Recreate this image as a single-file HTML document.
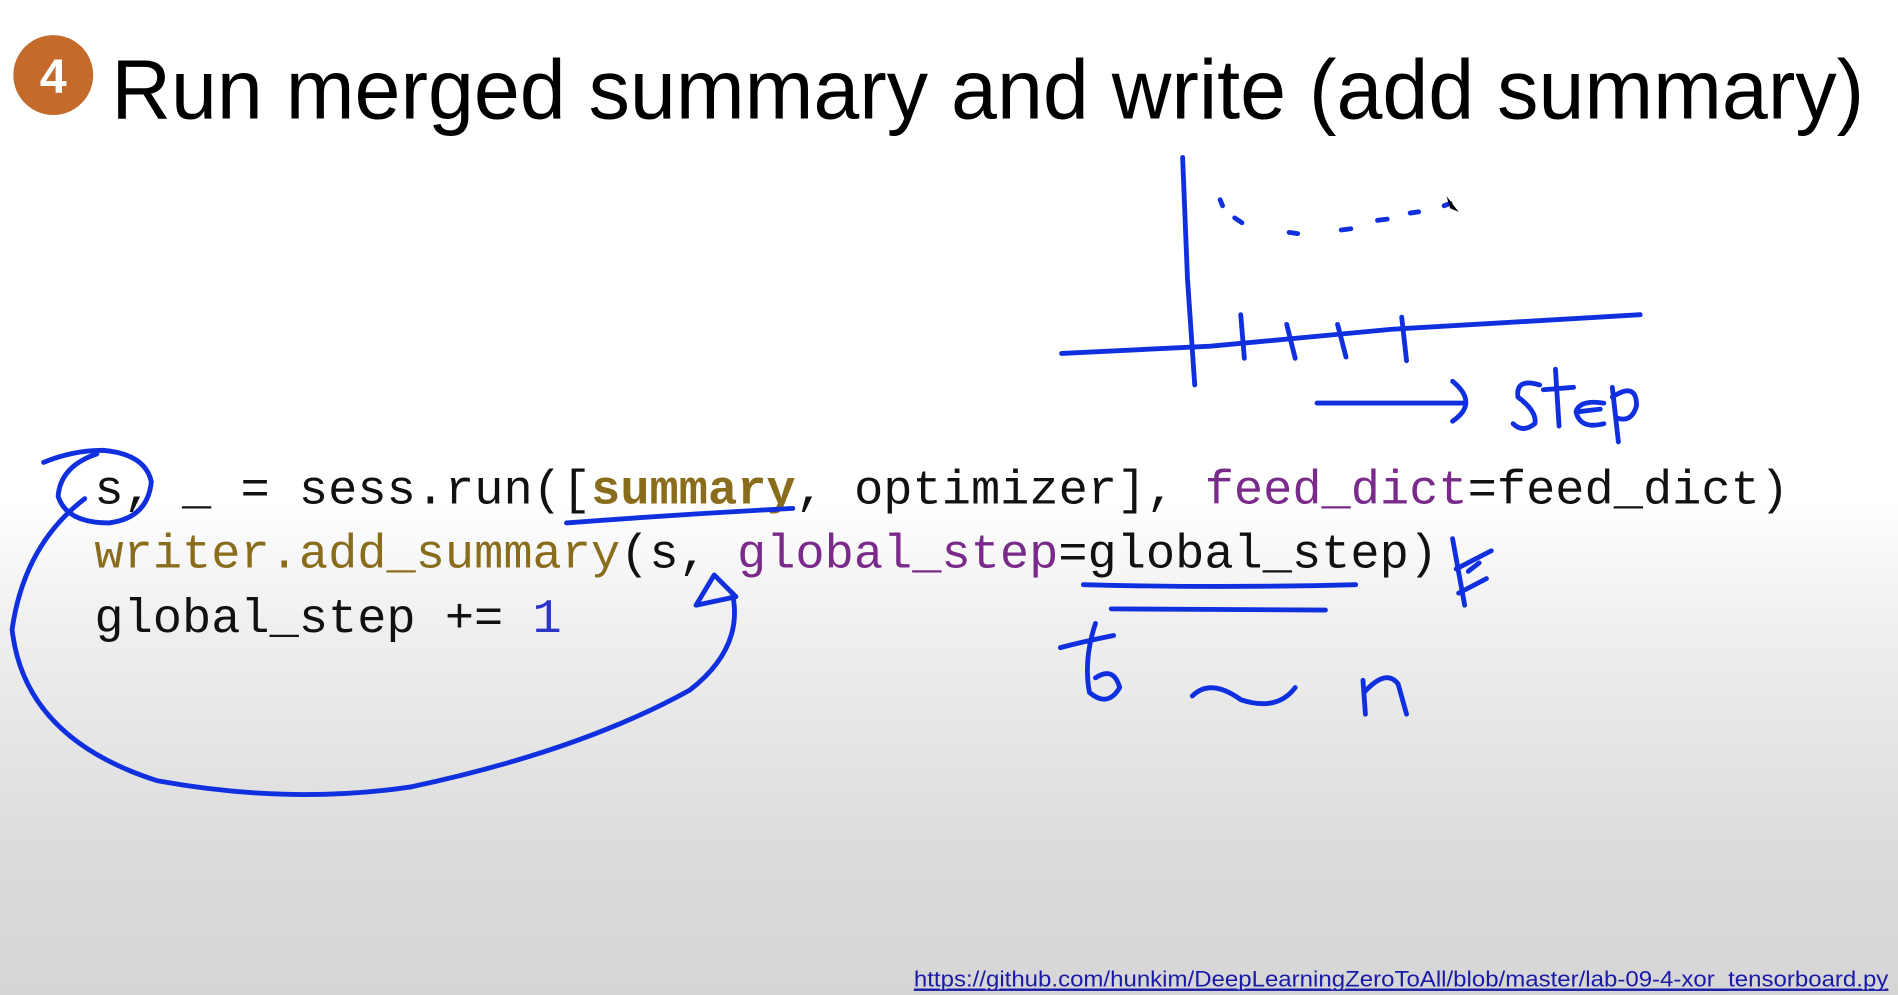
<!DOCTYPE html>
<html><head><meta charset="utf-8"><style>
html,body{margin:0;padding:0;width:1898px;height:995px;overflow:hidden;
background:linear-gradient(to bottom,#ffffff 0%,#ffffff 50%,#f0f0f0 62%,#dcdcdc 85%,#d6d6d6 100%);}
svg{display:block}
</style></head><body>
<svg width="1898" height="995" viewBox="0 0 1568 822" xmlns="http://www.w3.org/2000/svg">
<circle cx="44" cy="62" r="33" fill="#c46a2a"/>
<text x="44" y="77" font-family="Liberation Sans, sans-serif" font-size="40" font-weight="bold" fill="#fff" text-anchor="middle">4</text>
<text x="92" y="98" font-family="Liberation Sans, sans-serif" font-size="70" fill="#000" textLength="1448" lengthAdjust="spacingAndGlyphs">Run merged summary and write (add summary)</text>

<g font-family="Liberation Mono, monospace" font-size="40" fill="#111">
<text x="78" y="416" textLength="1400" lengthAdjust="spacingAndGlyphs">s, _ = sess.run([<tspan fill="#8a6d1c" font-weight="bold">summary</tspan>, optimizer], <tspan fill="#7a2a8a">feed_dict</tspan>=feed_dict)</text>
<text x="78" y="469" textLength="1110" lengthAdjust="spacingAndGlyphs"><tspan fill="#8a6d1c">writer.add_summary</tspan>(s, <tspan fill="#7a2a8a">global_step</tspan>=global_step)</text>
<text x="78" y="522" textLength="386" lengthAdjust="spacingAndGlyphs">global_step += <tspan fill="#2a35c8">1</tspan></text>
</g>

<g fill="none" stroke="#1030e0" stroke-width="4" stroke-linecap="round" stroke-linejoin="round">
<!-- graph axes -->
<path d="M977 130 L981 230 L987 318"/>
<path d="M877 292 L1000 286 L1150 272 L1355 260"/>
<path d="M1025 260 L1028 296 M1063 268 L1070 296 M1105 268 L1112 295 M1158 262 L1162 298"/>
<path d="M1008 165 L1010 170 M1020 180 L1026 184 M1065 192 L1072 193 M1108 190 L1116 189 M1138 182 L1146 181 M1165 176 L1172 175 M1193 170 L1198 168"/>
<!-- step arrow -->
<path d="M1088 333 L1210 333 M1200 315 Q1222 333 1200 348"/>
<path d="M1272 318 Q1252 312 1254 328 Q1270 340 1268 350 Q1258 358 1250 350"/>
<path d="M1285 305 L1288 352 M1275 322 L1300 320"/>
<path d="M1325 333 Q1305 330 1302 340 Q1305 355 1325 350"/>
<path d="M1305 340 L1322 338"/>
<path d="M1332 320 L1337 365 M1332 328 Q1352 315 1352 335 Q1348 350 1335 345"/>
<!-- circle around s -->
<path d="M36 382 Q60 372 85 372 Q120 375 125 398 Q122 428 90 432 Q55 432 48 410 Q50 385 80 375"/>
<!-- loop arrow -->
<path d="M70 412 Q20 450 10 520 Q20 610 130 645 Q240 665 340 650 Q480 620 570 570 Q615 535 605 490"/>
<path d="M575 500 L590 475 L608 493 Z"/>
<!-- underlines -->
<path d="M468 432 Q560 425 655 420"/>
<path d="M895 483 Q1010 486 1120 483"/>
<path d="M918 503 L1095 504"/>
<path d="M1200 445 L1210 500 M1203 470 L1232 455 M1205 490 L1228 478 M1213 472 L1222 465"/>
<!-- t ~ n -->
<path d="M876 535 Q895 530 920 525 M905 515 Q895 545 900 572 Q915 585 925 568 Q920 550 905 560"/>
<path d="M985 575 Q1000 560 1025 578 Q1055 588 1070 568"/>
<path d="M1126 562 L1128 590 M1127 572 Q1145 552 1155 565 L1162 590"/>
</g>
<path d="M1195 162 L1205 175 L1198 172 Z" fill="#000"/>

<text x="755" y="815" font-family="Liberation Sans, sans-serif" font-size="18" fill="#1a1aa8" text-decoration="underline" textLength="805" lengthAdjust="spacingAndGlyphs">https://github.com/hunkim/DeepLearningZeroToAll/blob/master/lab-09-4-xor_tensorboard.py</text>
<line x1="755" y1="818" x2="1560" y2="818" stroke="#1a1aa8" stroke-width="1.2"/>
</svg>
</body></html>
